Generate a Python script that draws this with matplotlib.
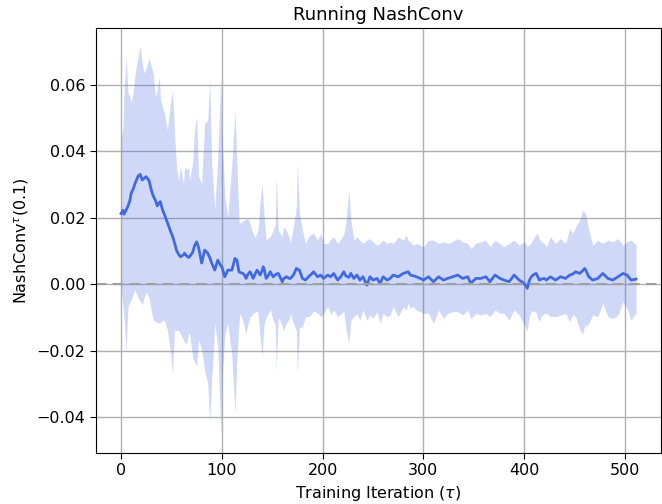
import matplotlib
matplotlib.use("Agg")
import matplotlib.pyplot as plt
import numpy as np

iterations = [0, 2, 3, 5, 7, 9, 10, 12, 14, 17, 19, 21, 23, 25, 28, 30, 32, 34, 36, 38, 39, 41, 43, 46, 49, 51, 53, 55, 57, 59,
              62, 63, 65, 67, 68, 71, 73, 75, 77, 80, 83, 86, 88, 90, 93, 96, 99, 100, 103, 106, 110, 113, 115, 117, 118,
              121, 123, 124, 126, 128, 130, 131, 133, 135, 136, 138, 140, 141, 142, 144, 146, 148, 151, 153, 154, 156, 158,
              160, 161, 164, 167, 168, 171, 174, 175, 177, 180, 183, 186, 189, 191, 195, 198, 201, 205, 208, 211, 215, 218,
              221, 223, 226, 228, 231, 234, 237, 240, 244, 247, 250, 254, 257, 260, 264, 267, 270, 275, 280, 283, 285, 287,
              290, 293, 297, 300, 305, 310, 315, 320, 324, 329, 334, 339, 344, 347, 352, 357, 362, 366, 371, 376, 380, 385,
              390, 395, 400, 403, 405, 407, 410, 412, 413, 415, 417, 420, 422, 426, 431, 436, 441, 445, 448, 451, 455, 458,
              460, 461, 464, 468, 473, 478, 483, 488, 493, 498, 502, 506, 511]

mean_nashconv = [0.0212, 0.0222, 0.0210, 0.0222, 0.0235, 0.0253, 0.0273, 0.0285, 0.0303, 0.0325, 0.0330, 0.0313, 0.0318, 0.0323,
                 0.0310, 0.0283, 0.0265, 0.0253, 0.0235, 0.0245, 0.0248, 0.0225, 0.0210, 0.0185, 0.0160, 0.0145, 0.0125, 0.0102,
                 0.0090, 0.0082, 0.0088, 0.0093, 0.0085, 0.0080, 0.0082, 0.0095, 0.0115, 0.0127, 0.0110, 0.0063, 0.0102, 0.0093,
                 0.0080, 0.0063, 0.0042, 0.0072, 0.0055, 0.0052, 0.0022, 0.0042, 0.0042, 0.0077, 0.0072, 0.0037, 0.0035, 0.0032,
                 0.0025, 0.0017, 0.0030, 0.0037, 0.0025, 0.0017, 0.0030, 0.0042, 0.0038, 0.0027, 0.0040, 0.0052, 0.0045, 0.0017,
                 0.0025, 0.0037, 0.0022, 0.0027, 0.0030, 0.0032, 0.0020, 0.0007, 0.0015, 0.0022, 0.0017, 0.0017, 0.0027, 0.0047,
                 0.0045, 0.0042, 0.0017, 0.0012, 0.0022, 0.0030, 0.0037, 0.0022, 0.0027, 0.0017, 0.0027, 0.0022, 0.0032, 0.0012,
                 0.0022, 0.0037, 0.0025, 0.0020, 0.0032, 0.0017, 0.0027, 0.0012, 0.0022, -0.0003, 0.0022, 0.0012, 0.0017, 0.0002,
                 0.0022, 0.0012, 0.0017, 0.0027, 0.0022, 0.0032, 0.0035, 0.0037, 0.0027, 0.0025, 0.0022, 0.0017, 0.0012, 0.0022,
                 0.0007, 0.0022, 0.0012, 0.0017, 0.0022, 0.0027, 0.0017, 0.0022, 0.0002, 0.0017, 0.0017, 0.0022, 0.0007, 0.0027,
                 0.0017, 0.0012, 0.0007, 0.0027, 0.0012, 0.0002, -0.0013, 0.0010, 0.0022, 0.0030, 0.0032, 0.0025, 0.0012, 0.0015,
                 0.0017, 0.0012, 0.0022, 0.0012, 0.0022, 0.0017, 0.0027, 0.0030, 0.0037, 0.0032, 0.0040, 0.0047, 0.0042, 0.0022,
                 0.0012, 0.0017, 0.0032, 0.0017, 0.0012, 0.0022, 0.0032, 0.0027, 0.0012, 0.0015]

upper_band = [0.0433, 0.0473, 0.0574, 0.0684, 0.0574, 0.0563, 0.0544, 0.0574, 0.0634, 0.0684, 0.0714, 0.0664, 0.0634, 0.0649,
              0.0680, 0.0655, 0.0634, 0.0563, 0.0584, 0.0624, 0.0560, 0.0533, 0.0514, 0.0463, 0.0544, 0.0583, 0.0463, 0.0353,
              0.0313, 0.0353, 0.0303, 0.0353, 0.0345, 0.0349, 0.0313, 0.0363, 0.0463, 0.0503, 0.0323, 0.0303, 0.0483, 0.0493,
              0.0614, 0.0363, 0.0223, 0.0383, 0.0624, 0.0463, 0.0263, 0.0203, 0.0363, 0.0523, 0.0363, 0.0190, 0.0183, 0.0190,
              0.0193, 0.0195, 0.0198, 0.0180, 0.0162, 0.0150, 0.0142, 0.0155, 0.0162, 0.0250, 0.0303, 0.0250, 0.0203, 0.0132,
              0.0138, 0.0142, 0.0162, 0.0180, 0.0323, 0.0162, 0.0150, 0.0142, 0.0172, 0.0162, 0.0140, 0.0122, 0.0172, 0.0233,
              0.0363, 0.0213, 0.0162, 0.0122, 0.0142, 0.0150, 0.0152, 0.0132, 0.0152, 0.0122, 0.0122, 0.0135, 0.0142, 0.0122,
              0.0135, 0.0150, 0.0182, 0.0283, 0.0193, 0.0132, 0.0142, 0.0132, 0.0122, 0.0132, 0.0137, 0.0127, 0.0117, 0.0122,
              0.0132, 0.0122, 0.0127, 0.0122, 0.0142, 0.0132, 0.0147, 0.0130, 0.0127, 0.0117, 0.0122, 0.0117, 0.0112, 0.0132,
              0.0132, 0.0122, 0.0127, 0.0122, 0.0127, 0.0137, 0.0127, 0.0122, 0.0107, 0.0122, 0.0127, 0.0132, 0.0112, 0.0132,
              0.0122, 0.0112, 0.0122, 0.0132, 0.0117, 0.0127, 0.0115, 0.0117, 0.0125, 0.0142, 0.0150, 0.0152, 0.0135, 0.0127,
              0.0122, 0.0112, 0.0142, 0.0122, 0.0137, 0.0122, 0.0167, 0.0152, 0.0172, 0.0192, 0.0222, 0.0215, 0.0212, 0.0162,
              0.0117, 0.0132, 0.0122, 0.0132, 0.0127, 0.0137, 0.0117, 0.0127, 0.0132, 0.0117]

lower_band = [-0.0009, -0.0068, -0.0100, -0.0204, -0.0068, -0.0055, -0.0048, -0.0030, -0.0018, -0.0043, -0.0050, -0.0063,
              -0.0040, -0.0023, -0.0043, -0.0080, -0.0108, -0.0113, -0.0115, -0.0118, -0.0115, -0.0110, -0.0108, -0.0138,
              -0.0200, -0.0269, -0.0138, -0.0140, -0.0138, -0.0150, -0.0168, -0.0175, -0.0178, -0.0150, -0.0148, -0.0219,
              -0.0235, -0.0244, -0.0168, -0.0198, -0.0260, -0.0300, -0.0414, -0.0289, -0.0118, -0.0188, -0.0449, -0.0300,
              -0.0150, -0.0118, -0.0219, -0.0389, -0.0220, -0.0120, -0.0088, -0.0110, -0.0140, -0.0148, -0.0120, -0.0098,
              -0.0095, -0.0088, -0.0085, -0.0080, -0.0088, -0.0160, -0.0220, -0.0160, -0.0120, -0.0098, -0.0090, -0.0075,
              -0.0110, -0.0120, -0.0260, -0.0100, -0.0110, -0.0128, -0.0140, -0.0118, -0.0105, -0.0090, -0.0118, -0.0140,
              -0.0270, -0.0130, -0.0128, -0.0098, -0.0098, -0.0090, -0.0080, -0.0088, -0.0098, -0.0088, -0.0068, -0.0090,
              -0.0078, -0.0098, -0.0090, -0.0080, -0.0130, -0.0178, -0.0110, -0.0098, -0.0090, -0.0108, -0.0078, -0.0110,
              -0.0093, -0.0103, -0.0083, -0.0118, -0.0088, -0.0098, -0.0093, -0.0068, -0.0098, -0.0068, -0.0077, -0.0056,
              -0.0073, -0.0067, -0.0078, -0.0083, -0.0088, -0.0088, -0.0118, -0.0078, -0.0103, -0.0088, -0.0083, -0.0083,
              -0.0093, -0.0078, -0.0103, -0.0088, -0.0093, -0.0088, -0.0098, -0.0078, -0.0088, -0.0088, -0.0108, -0.0078,
              -0.0093, -0.0123, -0.0141, -0.0097, -0.0081, -0.0082, -0.0086, -0.0102, -0.0111, -0.0097, -0.0088, -0.0088,
              -0.0098, -0.0098, -0.0093, -0.0088, -0.0113, -0.0092, -0.0098, -0.0135, -0.0153, -0.0121, -0.0128, -0.0118,
              -0.0093, -0.0098, -0.0058, -0.0098, -0.0103, -0.0093, -0.0053, -0.0073, -0.0108, -0.0087]

x_ticks = [0, 100, 200, 300, 400, 500]
y_ticks = [-0.04, -0.02, 0.00, 0.02, 0.04, 0.06]

line_color = "#4169E1"

fig = plt.figure(figsize=(6.62, 5.04), dpi=100)
ax = fig.add_axes([96 / 662, 51 / 504, 565 / 662, 425 / 504])

ax.fill_between(iterations, lower_band, upper_band, color=line_color, alpha=0.25, linewidth=0)
ax.plot(iterations, mean_nashconv, color=line_color, linewidth=2)
ax.axhline(0.0, color="#a0a0a0", linestyle="--", linewidth=1.5, dashes=(5, 3))

ax.set_xticks(x_ticks)
ax.set_yticks(y_ticks)
ax.set_yticklabels([f"{v:.2f}".replace("-", "\u2212") for v in y_ticks])
ax.set_xlim(-24.8, 535.7)
ax.set_ylim(-0.0508, 0.0770)
ax.grid(True, color="#b0b0b0", linewidth=1)
ax.set_axisbelow(True)
ax.tick_params(labelsize=11.5, direction="out", length=4)

ax.set_title("Running NashConv", fontsize=13)
ax.set_xlabel(r"Training Iteration ($\tau$)", fontsize=11.5)
ax.set_ylabel(r"NashConv$^\tau$(0.1)", fontsize=11.5)

fig.savefig("out.png", dpi=100)
